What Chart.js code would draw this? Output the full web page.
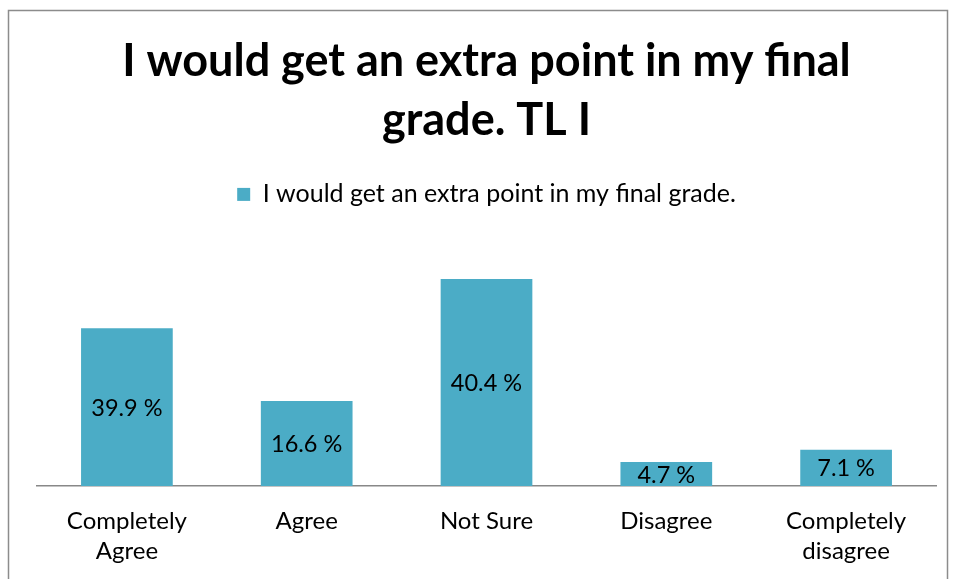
<!DOCTYPE html>
<html>
<head>
<meta charset="utf-8">
<script src="https://cdn.jsdelivr.net/npm/chart.js@4/dist/chart.umd.min.js"></script>
<style>
  html, body { margin: 0; padding: 0; background: #ffffff; }
  #wrap { position: absolute; left: 0; top: 0; width: 956px; height: 579px; }
</style>
</head>
<body>
<div id="wrap"><canvas id="c" width="956" height="579"></canvas></div>
<script>
const titleLines = ["I would get an extra point in my final", "grade. TL I"];
const seriesName = "I would get an extra point in my final grade.";
const categories = [["Completely", "Agree"], "Agree", "Not Sure", "Disagree", ["Completely", "disagree"]];
const barValues = [30.8, 16.6, 40.4, 4.7, 7.1];
const valueLabels = ["39.9 %", "16.6 %", "40.4 %", "4.7 %", "7.1 %"];

const FONT = "Lato, 'Liberation Sans', sans-serif";

const framePlugin = {
  id: 'frame',
  beforeDraw(chart) {
    const ctx = chart.ctx;
    ctx.save();
    ctx.fillStyle = '#ffffff';
    ctx.fillRect(0, 0, chart.width, chart.height);
    ctx.strokeStyle = '#8c8c8c';
    ctx.lineWidth = 1.5;
    ctx.strokeRect(8.5, 10.5, 939, 600);
    ctx.restore();
  }
};

const legendGap = {
  id: 'legendGap',
  beforeInit(chart) {
    const fit = chart.legend.fit;
    chart.legend.fit = function () {
      fit.bind(chart.legend)();
      this.height += 13;
    };
  }
};

const valueLabelPlugin = {
  id: 'valueLabels',
  afterDatasetsDraw(chart) {
    const ctx = chart.ctx;
    const meta = chart.getDatasetMeta(0);
    ctx.save();
    ctx.font = "23.5px " + FONT;
    ctx.fillStyle = '#000000';
    ctx.textAlign = 'center';
    ctx.textBaseline = 'middle';
    meta.data.forEach((bar, i) => {
      const y = (bar.y + bar.base) / 2;
      ctx.fillText(valueLabels[i], bar.x, y + 1);
    });
    ctx.restore();
  }
};

new Chart(document.getElementById('c'), {
  type: 'bar',
  data: {
    labels: categories,
    datasets: [{
      label: seriesName,
      data: barValues,
      backgroundColor: '#4BACC6',
      borderWidth: 0,
      categoryPercentage: 1.0,
      barPercentage: 0.51
    }]
  },
  options: {
    responsive: false,
    animation: false,
    devicePixelRatio: 1,
    layout: { padding: { left: 37, right: 20, top: 0, bottom: 0 } },
    plugins: {
      title: {
        display: true,
        text: titleLines,
        color: '#000000',
        font: { family: FONT, size: 45, weight: 'bold', lineHeight: 1.31 },
        padding: { top: 32, bottom: 22 }
      },
      legend: {
        display: true,
        position: 'top',
        labels: {
          color: '#000000',
          font: { family: FONT, size: 25 },
          boxWidth: 13,
          boxHeight: 13,
          padding: 10
        }
      },
      tooltip: { enabled: false }
    },
    scales: {
      x: {
        afterFit(scale) { scale.height = 93; },
        grid: { display: false, drawTicks: false },
        border: { display: true, color: '#888888', width: 1.5 },
        ticks: {
          color: '#000000',
          font: { family: FONT, size: 24, lineHeight: 1.25 },
          padding: 20,
          maxRotation: 0,
          autoSkip: false
        }
      },
      y: {
        display: false,
        min: 0,
        max: 50
      }
    }
  },
  plugins: [framePlugin, legendGap, valueLabelPlugin]
});
</script>
</body>
</html>
